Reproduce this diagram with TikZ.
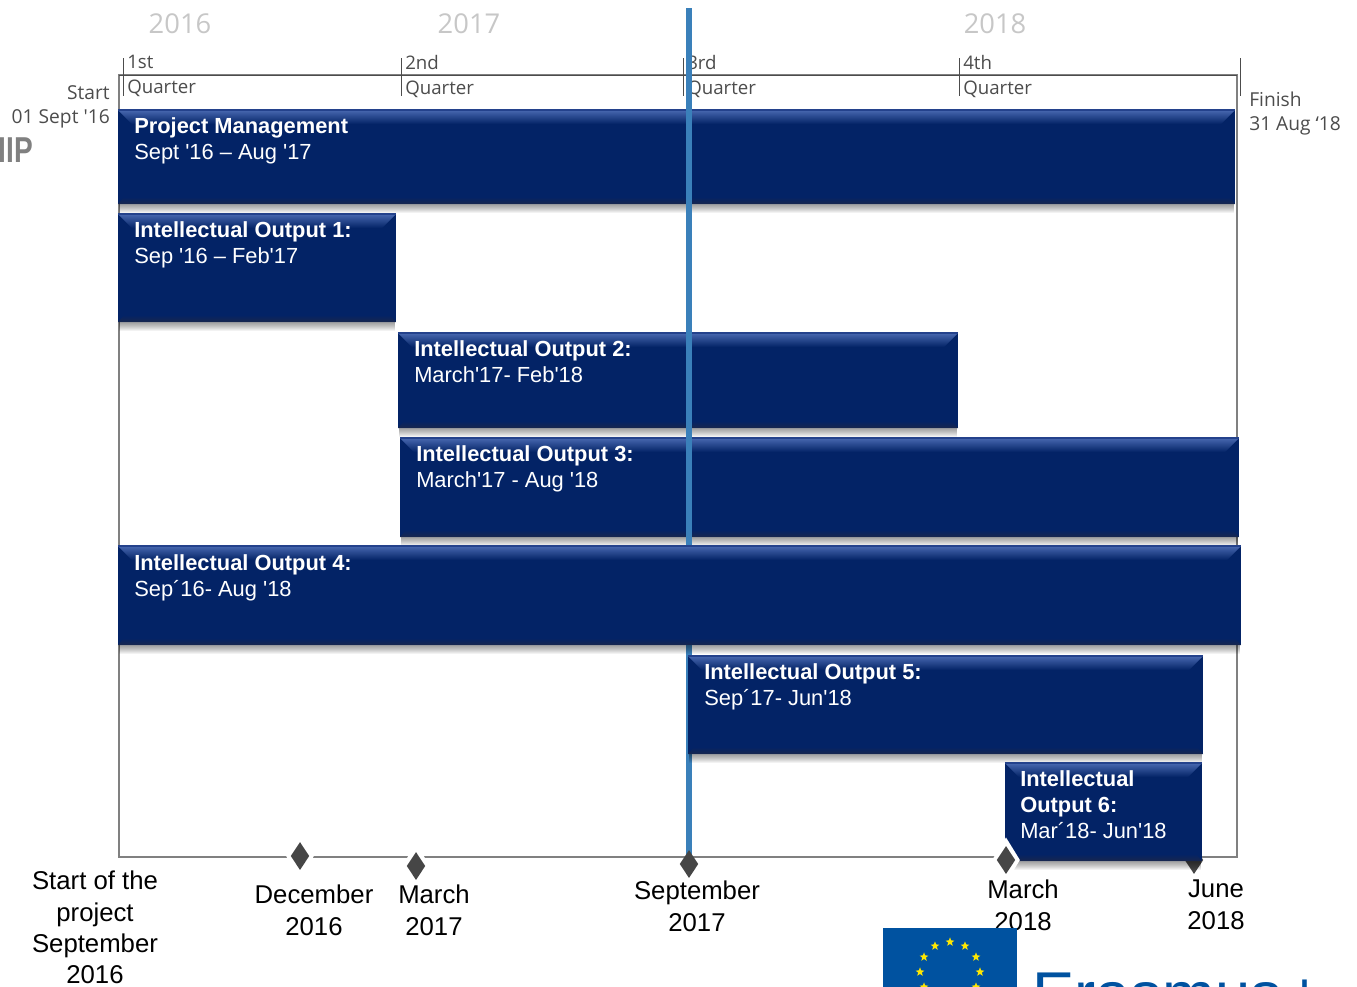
\documentclass[tikz,border=0pt]{standalone}
\usepackage{fontspec}
\usepackage{xcolor}
\usetikzlibrary{positioning,calc,shapes.geometric,shapes.misc}
\setmainfont{Liberation Sans}
\newfontfamily\barfont{Liberation Sans}
\newfontfamily\quarterfont{Open Sans}
\definecolor{barblue}{RGB}{3,35,102}
\definecolor{barmid}{RGB}{36,66,140}
\definecolor{barlight}{RGB}{72,104,176}
\definecolor{bardark}{RGB}{24,38,78}
\definecolor{linkblue}{RGB}{58,128,186}
\definecolor{flagblue}{RGB}{0,82,160}
\definecolor{milegray}{RGB}{70,70,70}
\tikzset{
  barbox/.style={fill=barblue, anchor=north west, inner sep=0pt, outer sep=0pt},
  bartext/.style={anchor=north west, text=white, align=left, inner sep=0pt, font=\barfont\fontsize{16.4}{19.6}\selectfont},
  yearlabel/.style={text=black!22, font=\quarterfont\fontsize{20.5}{24}\selectfont, inner sep=0pt},
  quarterlabel/.style={anchor=north west, text=black!70, align=left, inner sep=0pt, font=\quarterfont\fontsize{14}{18.6}\selectfont},
  sidelabel/.style={text=black!70, inner sep=0pt, font=\quarterfont\fontsize{14.4}{18}\selectfont},
  datelabel/.style={anchor=north, align=center, inner sep=0pt, font=\fontsize{19.3}{23.4}\selectfont},
  milestone/.style={diamond, fill=milegray, inner sep=0pt, minimum width=14pt, minimum height=21pt, aspect=0.6},
  halo/.style={diamond, fill=white, inner sep=0pt, minimum width=21pt, minimum height=34pt, aspect=0.6},
}
% bar with bevel and shadow: name, left, top, width, height
\newcommand{\ganttbar}[5]{
  \foreach \s in {2,3,...,9}{
    \fill[black, opacity=0.05] (#2+1,#3+#5) rectangle ++(#4-2,\s);
  }
  \node[barbox, minimum width=#4*0.75pt, minimum height=#5*0.75pt] (#1) at (#2,#3) {};
  \shade[top color=barlight, bottom color=barblue] (#1.north west) -- (#1.north east) -- ++(-14,14) -- ($(#1.north west)+(14,14)$) -- cycle;
  \draw[barmid, line width=0.8pt] (#1.north west) -- (#1.north east);
  \shade[top color=barblue, bottom color=bardark] ($(#1.south west)+(6,-7)$) -- ($(#1.south east)+(-6,-7)$) -- (#1.south east) -- (#1.south west) -- cycle;
}
\begin{document}
\begin{tikzpicture}[x=0.75pt, y=-0.75pt]
\useasboundingbox (0,0) rectangle (1357,986);
\clip (0,0) rectangle (1357,986);

% frame
\draw[black!50, line width=0.8pt] (119,857) -- (119,75) -- (1237,75) -- (1237,857) -- cycle;
\draw[black!70, line width=0.6pt] (119,75) -- (1237,75);

% years
\node[yearlabel] (y2016) at (180,24) {2016};
\node[yearlabel] (y2017) at (469,24) {2017};
\node[yearlabel] (y2018) at (995,24) {2018};

% quarters
\foreach \n/\x/\q in {qa/123/1st, qb/401/2nd, qc/683/3rd, qd/959/4th}{
  \coordinate (\n top) at (\x,58);
  \coordinate (\n bottom) at (\x,96);
  \draw[black!70, line width=0.6pt] (\n top) -- (\n bottom);
  \node[quarterlabel] (\n) at (\x+4,55) {\q\\Quarter};
}
\coordinate (qe top) at (1240,58);
\coordinate (qe bottom) at (1240,96);
\draw[black!70, line width=0.6pt] (qe top) -- (qe bottom);

\node[sidelabel, anchor=north east, align=right] (start) at (110,85) {Start\\01 Sept '16};
\node[sidelabel, anchor=north west, align=left] (finish) at (1249,92) {Finish\\31 Aug ‘18};
\node[anchor=east, inner sep=0pt, text=black!50, xscale=0.78, transform shape, font=\fontsize{27}{27}\bfseries\selectfont\barfont] (logoleft) at (33,150) {IIP};

% bars under the line
\ganttbar{pm}{118}{110}{1117}{94}
\ganttbar{ioa}{118}{214}{278}{108}
\ganttbar{iob}{398}{333}{560}{95}
\ganttbar{ioc}{400}{438}{839}{99}

% september line
\coordinate (linetop) at (689,8);
\coordinate (linebottom) at (689,868);
\draw[linkblue, line width=4.4pt] (linetop) -- (linebottom);

\ganttbar{iod}{118}{546}{1123}{99}
\ganttbar{ioe}{688}{656}{515}{98}

% milestones
\node[milestone] (mjun) at (1194,860) {};
\ganttbar{iof}{1005}{763}{197}{98}
\node[halo] (hdec) at (300,856) {};
\node[milestone] (mdec) at (300,856) {};
\node[halo] (hmar) at (416,866) {};
\node[milestone] (mmar) at (416,866) {};
\node[milestone] (msep) at (689,864) {};
\node[halo] (hmarb) at (1006,860) {};
\node[milestone] (mmarb) at (1006,860) {};

% bar texts
\node[bartext] (pmtext) at (134,117) {\textbf{Project Management}\\Sept '16 – Aug '17};
\node[bartext] (ioatext) at (134,221) {\textbf{Intellectual Output 1:}\\Sep '16 – Feb'17};
\node[bartext] (iobtext) at (414,340) {\textbf{Intellectual Output 2:}\\March'17- Feb'18};
\node[bartext] (ioctext) at (416,445) {\textbf{Intellectual Output 3:}\\March'17 - Aug '18};
\node[bartext] (iodtext) at (134,554) {\textbf{Intellectual Output 4:}\\Sep´16- Aug '18};
\node[bartext] (ioetext) at (704,663) {\textbf{Intellectual Output 5:}\\Sep´17- Jun'18};
\node[bartext] (ioftext) at (1020,770) {\textbf{Intellectual}\\\textbf{Output 6:}\\Mar´18- Jun'18};

% dates
\node[datelabel] (dstart) at (95,871) {Start of the\\project\\September\\2016};
\node[datelabel] (ddec) at (314,885) {December\\2016};
\node[datelabel] (dmar) at (434,885) {March\\2017};
\node[datelabel] (dsep) at (697,881) {September\\2017};
\node[datelabel] (dmarb) at (1023,880) {March\\2018};
\node[datelabel] (djun) at (1216,880) {June\\2018};

% erasmus logo
\fill[flagblue] (883,928) rectangle (1017,990);
\foreach \a in {0,30,...,330}{
  \node[star, star points=5, star point ratio=2.4, fill=yellow!90!orange, inner sep=0pt, minimum size=7pt] at ($(950,972)+(\a:30)$) {};
}
\node[anchor=north west, inner sep=0pt, text=flagblue, font=\fontsize{47.5}{47.5}\selectfont] (erasmus) at (1032,973) {Erasmus\hspace{3pt}+};
\end{tikzpicture}
\end{document}
